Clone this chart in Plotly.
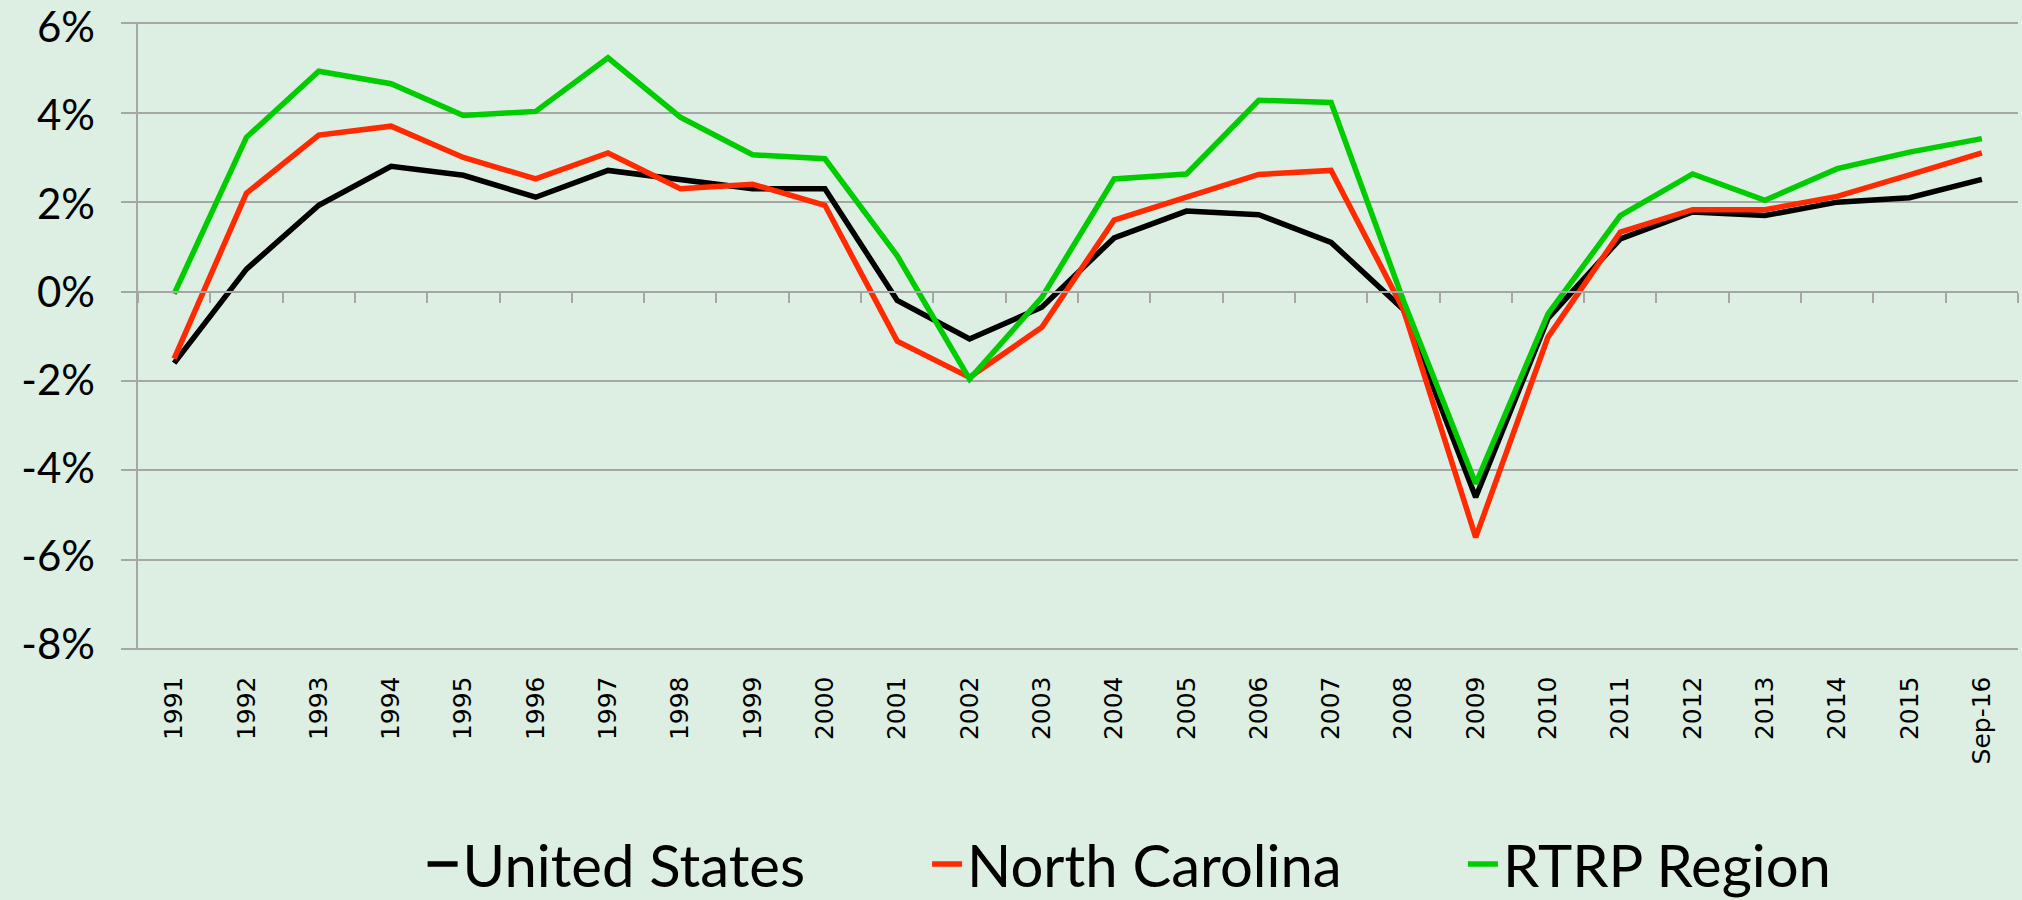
import plotly.graph_objects as go

# categorias (años) y series de crecimiento del empleo, %
years = ["1991", "1992", "1993", "1994", "1995", "1996", "1997", "1998", "1999",
         "2000", "2001", "2002", "2003", "2004", "2005", "2006", "2007", "2008",
         "2009", "2010", "2011", "2012", "2013", "2014", "2015", "Sep-16"]

us = [-1.6, 0.5, 1.93, 2.8, 2.6, 2.11, 2.71, 2.52, 2.3, 2.3, -0.2, -1.06,
      -0.35, 1.2, 1.8, 1.72, 1.1, -0.4, -4.6, -0.6, 1.18, 1.78, 1.7, 2.0, 2.1, 2.51]
nc = [-1.5, 2.2, 3.5, 3.7, 3.0, 2.52, 3.1, 2.3, 2.4, 1.93, -1.11, -1.92,
      -0.8, 1.6, 2.11, 2.62, 2.71, -0.4, -5.5, -1.02, 1.33, 1.83, 1.83, 2.13, 2.61, 3.1]
rtrp = [-0.05, 3.45, 4.93, 4.65, 3.94, 4.03, 5.23, 3.9, 3.06, 2.97, 0.8, -1.96,
        -0.13, 2.52, 2.63, 4.28, 4.23, -0.2, -4.3, -0.5, 1.7, 2.63, 2.04, 2.75, 3.12, 3.42]

y_ticks = [6, 4, 2, 0, -2, -4, -6, -8]

GRID = "#a6a6a6"
BG = "#ddeee3"
Y_RANGE = [-8.03, 6.03]

# geometría en px: el eje de etiquetas (y2) baja un poco más que el principal
H, TOP, BOT = 900, 22, 240
PX_PER_UNIT = 44.7
paper_h = H - TOP - BOT
main_h = (Y_RANGE[1] - Y_RANGE[0]) * PX_PER_UNIT
delta = (paper_h - main_h) / paper_h
LBL_SHIFT = 0.1  # etiquetas del eje Y un poco por debajo de la línea
y2_top = Y_RANGE[1] + LBL_SHIFT
y2_range = [y2_top - paper_h / PX_PER_UNIT, y2_top]

series = [("United States", us, "#000000", "legend", 0.209),
          ("North Carolina", nc, "#ff2a00", "legend2", 0.4585),
          ("RTRP Region", rtrp, "#00cc00", "legend3", 0.7235)]

fig = go.Figure()
for name, vals, col, leg, _ in series:
    fig.add_trace(go.Scatter(x=years, y=vals, name=name, mode="lines",
                             legend=leg, line=dict(color=col, width=5.5)))

# traza invisible para los ejes auxiliares (línea 0% y etiquetas Y)
fig.add_trace(go.Scatter(x=years, y=us, xaxis="x2", yaxis="y2", mode="lines",
                         line=dict(width=0), opacity=0, showlegend=False,
                         hoverinfo="skip"))

legends = {}
for name, vals, col, leg, lx in series:
    legends[leg] = dict(orientation="h", xref="container", yref="container",
                        x=lx, xanchor="left", y=0.0396, yanchor="middle",
                        font=dict(family="Lato", size=58, color="#000"),
                        bgcolor="rgba(0,0,0,0)")

zero_pos = delta + (1 - delta) * (0 - Y_RANGE[0]) / (Y_RANGE[1] - Y_RANGE[0])

fig.update_layout(
    width=2022, height=H,
    margin=dict(l=138, r=4, t=TOP, b=BOT, pad=0, autoexpand=False),
    paper_bgcolor=BG, plot_bgcolor="rgba(0,0,0,0)",
    xaxis=dict(type="category", categoryarray=years, range=[-0.5, 25.5],
               showgrid=False, showline=False, ticks="", tickangle=-90,
               ticklabelstandoff=20, automargin=False,
               tickfont=dict(family="DejaVu Sans", size=25, color="#000")),
    xaxis2=dict(type="category", categoryarray=years, range=[-0.5, 25.5],
                overlaying="x", anchor="free", position=zero_pos,
                side="bottom", showgrid=False, showline=True, linecolor=GRID,
                linewidth=2, ticks="outside", tickson="boundaries", ticklen=10,
                tickwidth=2, tickcolor=GRID, showticklabels=False),
    yaxis=dict(range=Y_RANGE, domain=[delta, 1], tickvals=y_ticks,
               showticklabels=False,
               showgrid=True, gridcolor=GRID, gridwidth=2, automargin=False,
               zeroline=False, showline=True, linecolor=GRID, linewidth=2,
               ticks="outside", ticklen=15, tickwidth=2, tickcolor=GRID),
    yaxis2=dict(range=y2_range, domain=[0, 1],
                overlaying="y", side="left", anchor="x", tickvals=y_ticks,
                ticktext=[f"{v}%" for v in y_ticks],
                showgrid=False, zeroline=False, showline=False, ticks="",
                automargin=False, ticklabelstandoff=42,
                ticklabeloverflow="allow",
                tickfont=dict(family="Lato", size=42, color="#000")),
    showlegend=True,
    **legends,
)

fig.write_html("out.html", config={"displayModeBar": False},
               post_script="document.body.style.margin = '0';")
